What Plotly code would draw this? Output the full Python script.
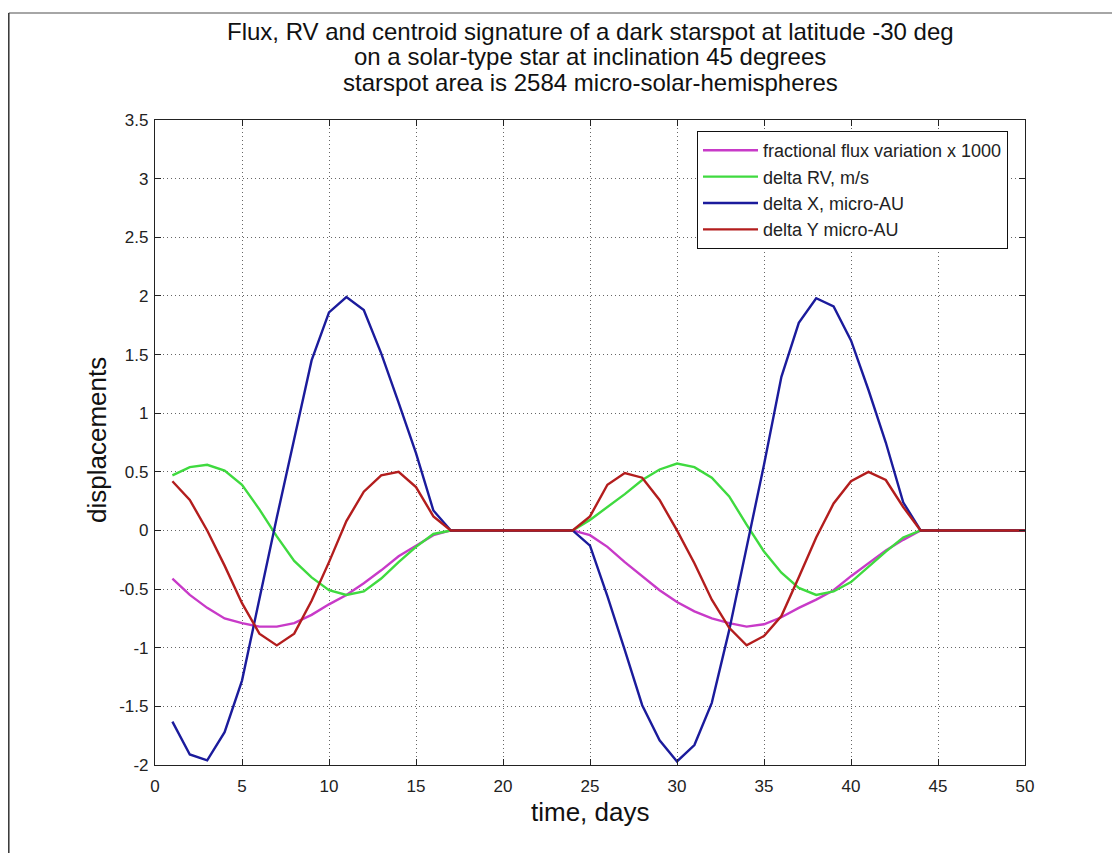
import plotly.graph_objects as go

# ---------------- data ----------------
days = list(range(1, 51))

flux_x1000 = [-0.41, -0.55, -0.66, -0.75, -0.79, -0.82, -0.82, -0.79, -0.72, -0.63,
              -0.55, -0.45, -0.34, -0.22, -0.13, -0.04, 0.0, 0.0, 0.0, 0.0,
              0.0, 0.0, 0.0, 0.0, -0.04, -0.14, -0.27, -0.39, -0.51, -0.61,
              -0.69, -0.75, -0.79, -0.82, -0.80, -0.74, -0.66, -0.59, -0.51, -0.39,
              -0.28, -0.17, -0.08, 0.0, 0.0, 0.0, 0.0, 0.0, 0.0, 0.0]

delta_rv = [0.47, 0.54, 0.56, 0.51, 0.39, 0.18, -0.05, -0.26, -0.40, -0.51,
            -0.55, -0.52, -0.41, -0.27, -0.14, -0.03, 0.0, 0.0, 0.0, 0.0,
            0.0, 0.0, 0.0, 0.0, 0.09, 0.20, 0.31, 0.43, 0.52, 0.57,
            0.54, 0.45, 0.29, 0.05, -0.18, -0.36, -0.49, -0.55, -0.52, -0.44,
            -0.31, -0.18, -0.06, 0.0, 0.0, 0.0, 0.0, 0.0, 0.0, 0.0]

delta_x = [-1.63, -1.91, -1.96, -1.72, -1.28, -0.58, 0.11, 0.78, 1.45, 1.86,
           1.99, 1.88, 1.51, 1.09, 0.66, 0.17, 0.0, 0.0, 0.0, 0.0,
           0.0, 0.0, 0.0, 0.0, -0.13, -0.56, -1.02, -1.49, -1.79, -1.97,
           -1.83, -1.47, -0.85, -0.16, 0.56, 1.31, 1.77, 1.98, 1.91, 1.62,
           1.20, 0.75, 0.24, 0.0, 0.0, 0.0, 0.0, 0.0, 0.0, 0.0]

delta_y = [0.42, 0.26, 0.0, -0.30, -0.62, -0.88, -0.98, -0.88, -0.60, -0.27,
           0.08, 0.33, 0.47, 0.50, 0.37, 0.12, 0.0, 0.0, 0.0, 0.0,
           0.0, 0.0, 0.0, 0.0, 0.12, 0.39, 0.49, 0.45, 0.26, 0.0,
           -0.28, -0.59, -0.83, -0.98, -0.90, -0.73, -0.40, -0.06, 0.23, 0.42,
           0.50, 0.43, 0.20, 0.0, 0.0, 0.0, 0.0, 0.0, 0.0, 0.0]

series_names = ["fractional flux variation x 1000", "delta RV, m/s",
                "delta X, micro-AU", "delta Y micro-AU"]

x_tick_vals = [0, 5, 10, 15, 20, 25, 30, 35, 40, 45, 50]
x_tick_text = ["0", "5", "10", "15", "20", "25", "30", "35", "40", "45", "50"]
y_tick_vals = [-2, -1.5, -1, -0.5, 0, 0.5, 1, 1.5, 2, 2.5, 3, 3.5]
y_tick_text = ["-2", "-1.5", "-1", "-0.5", "0", "0.5", "1", "1.5", "2", "2.5", "3", "3.5"]

title_lines = ["Flux, RV and centroid signature of a dark starspot at latitude -30 deg",
               "on a solar-type star at inclination 45 degrees",
               "starspot area is 2584 micro-solar-hemispheres"]

# ---------------- figure ----------------
FONT = "Liberation Sans, Arial, Helvetica, sans-serif"
colors = ["#c83ac8", "#3fda3f", "#1b1b9c", "#b31d1d"]
series = [flux_x1000, delta_rv, delta_x, delta_y]

fig = go.Figure()
for name, vals, col in zip(series_names, series, colors):
    fig.add_trace(go.Scatter(x=days, y=vals, mode="lines", name=name,
                             line=dict(color=col, width=2.4)))

# the page puts the figure 8px from the top-left corner
W, H = 1112, 845
L, R, T, B = 147, 95, 112, 88
pw, ph = W - L - R, H - T - B
PLOT_LEFT_PAGE, PLOT_BOTTOM_PAGE = 155, 765


def fx(xpage):
    return (xpage - PLOT_LEFT_PAGE) / pw


def fy(ypage):
    return (PLOT_BOTTOM_PAGE - ypage) / ph


axis_common = dict(
    showline=True, linecolor="#222", linewidth=1.2, mirror="allticks",
    ticks="inside", ticklen=6, tickcolor="#222", tickwidth=1,
    showgrid=True, gridcolor="#666", griddash="1px,3px", gridwidth=1,
    zeroline=False,
    tickfont=dict(family=FONT, size=17, color="#222"),
)

fig.update_layout(
    width=W, height=H,
    margin=dict(l=L, r=R, t=T, b=B, autoexpand=False),
    paper_bgcolor="white", plot_bgcolor="white",
    showlegend=True,
    legend=dict(x=fx(697), y=fy(131), xanchor="left", yanchor="top",
                bgcolor="white", bordercolor="#111", borderwidth=1,
                itemwidth=55,
                font=dict(family=FONT, size=18, color="#222")),
    xaxis=dict(range=[0, 50], tickvals=x_tick_vals, ticktext=x_tick_text,
               ticklabelstandoff=5, **axis_common),
    yaxis=dict(range=[-2, 3.5], tickvals=y_tick_vals, ticktext=y_tick_text,
               ticklabelstandoff=2, **axis_common),
)

# title lines
for txt, yc in zip(title_lines, [32, 57, 82]):
    fig.add_annotation(text=txt, xref="paper", yref="paper", x=fx(590), y=fy(yc),
                       xanchor="center", yanchor="middle", showarrow=False,
                       font=dict(family=FONT, size=24, color="#111"))

# axis titles
fig.add_annotation(text="time, days", xref="paper", yref="paper", x=fx(590), y=fy(812),
                   xanchor="center", yanchor="middle", showarrow=False,
                   font=dict(family=FONT, size=26, color="#111"))
fig.add_annotation(text="displacements", xref="paper", yref="paper", x=fx(97), y=fy(440),
                   xanchor="center", yanchor="middle", showarrow=False, textangle=-90,
                   font=dict(family=FONT, size=26, color="#111"))

# outer frame lines (top and left)
fig.add_shape(type="line", xref="paper", yref="paper", x0=fx(8.8), x1=fx(1120),
              y0=fy(13), y1=fy(13), line=dict(color="#888", width=1.5))
fig.add_shape(type="line", xref="paper", yref="paper", x0=fx(8.8), x1=fx(8.8),
              y0=fy(13), y1=fy(853), line=dict(color="#333", width=1.5))

fig.write_html("out.html")
